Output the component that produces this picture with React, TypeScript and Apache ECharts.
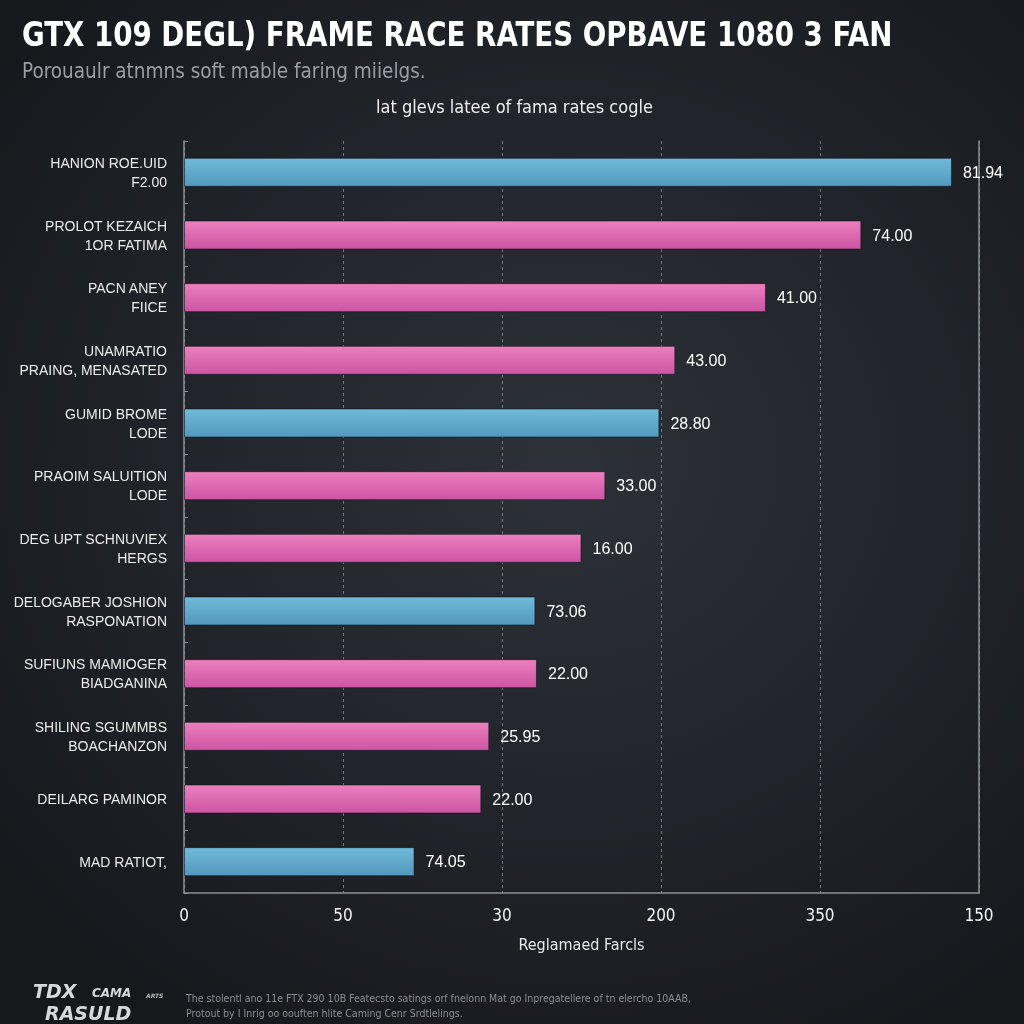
import React, { useEffect, useRef } from "react";
import * as echarts from "echarts";

// ---- data ----
const categories: string[] = [
  "HANION ROE.UID\nF2.00",
  "PROLOT KEZAICH\n1OR FATIMA",
  "PACN ANEY\nFIICE",
  "UNAMRATIO\nPRAING, MENASATED",
  "GUMID BROME\nLODE",
  "PRAOIM SALUITION\nLODE",
  "DEG UPT SCHNUVIEX\nHERGS",
  "DELOGABER JOSHION\nRASPONATION",
  "SUFIUNS MAMIOGER\nBIADGANINA",
  "SHILING SGUMMBS\nBOACHANZON",
  "DEILARG PAMINOR",
  "MAD RATIOT,",
];
// bar lengths in axis units (one unit per gridline)
const barValues: number[] = [4.83, 4.26, 3.66, 3.09, 2.99, 2.65, 2.5, 2.21, 2.22, 1.92, 1.87, 1.45];
const valueLabels: string[] = [
  "81.94", "74.00", "41.00", "43.00", "28.80", "33.00",
  "16.00", "73.06", "22.00", "25.95", "22.00", "74.05",
];
const barGroups: string[] = [
  "blue", "pink", "pink", "pink", "blue", "pink",
  "pink", "blue", "pink", "pink", "pink", "blue",
];
const xTickLabels: string[] = ["0", "50", "30", "200", "350", "150"];

const TITLE = "GTX 109 DEGL) FRAME RACE RATES OPBAVE 1080 3 FAN";
const SUBTITLE = "Porouaulr atnmns soft mable faring miielgs.";
const CHART_TITLE = "lat glevs latee of fama rates cogle";
const X_NAME = "Reglamaed Farcls";
const FOOTER_1 =
  "The stolentl ano 11e FTX 290 10B Featecsto satings orf fnelonn Mat go Inpregatellere of tn elercho 10AAB,";
const FOOTER_2 = "Protout by I Inrig oo oouften hlite Caming Cenr Srdtlelings.";

const NARROW = "'Liberation Sans Narrow', 'DejaVu Sans Condensed', 'Roboto', sans-serif";
const SANS = "'Liberation Sans', 'Roboto', sans-serif";
const LOGO_FONT = "'DejaVu Sans', sans-serif";

const blueGrad = () =>
  new echarts.graphic.LinearGradient(0, 0, 0, 1, [
    { offset: 0, color: "#70bad9" },
    { offset: 1, color: "#5299bd" },
  ]);
const pinkGrad = () =>
  new echarts.graphic.LinearGradient(0, 0, 0, 1, [
    { offset: 0, color: "#ec7fbd" },
    { offset: 1, color: "#cc55a3" },
  ]);

export default function App() {
  const ref = useRef<HTMLDivElement>(null);

  useEffect(() => {
    if (!ref.current) return;
    const chart = echarts.init(ref.current, undefined, { renderer: "svg" });

    const option: any = {
      animation: false,
      backgroundColor: "transparent",
      title: [
        {
          text: SUBTITLE,
          left: 22,
          top: 60,
          padding: 0,
          textStyle: { color: "#9b9ea4", fontSize: 20.5, fontWeight: "normal", fontFamily: NARROW },
        },
        {
          text: CHART_TITLE,
          left: 376,
          top: 97,
          padding: 0,
          textStyle: { color: "#f0f0f0", fontSize: 18, fontWeight: "normal", fontFamily: NARROW },
        },
      ],
      grid: { left: 184, right: 45, top: 141, bottom: 131, containLabel: false },
      xAxis: {
        type: "value",
        min: 0,
        max: 5,
        interval: 1,
        name: X_NAME,
        nameLocation: "middle",
        nameGap: 43,
        nameTextStyle: { color: "#e8e8e8", fontSize: 16, fontFamily: NARROW },
        axisLine: { show: true, lineStyle: { color: "#8c9096", width: 1.5 } },
        axisTick: { show: false },
        axisLabel: {
          color: "#f2f2f2",
          fontSize: 17,
          fontFamily: NARROW,
          margin: 13,
          formatter: (v: number) => xTickLabels[Math.round(v)] ?? "",
        },
        splitLine: { show: true, lineStyle: { color: "#70747b", type: [3, 3], width: 1 } },
      },
      yAxis: [
        {
          type: "category",
          inverse: true,
          data: categories,
          axisLine: { show: true, lineStyle: { color: "#8c9096", width: 1.5 } },
          axisTick: { show: true, inside: true, length: 4, lineStyle: { color: "#8c9096" } },
          axisLabel: {
            color: "#ececec",
            fontSize: 14,
            fontFamily: SANS,
            lineHeight: 19,
            align: "right",
            margin: 17,
          },
          splitLine: { show: false },
        },
        {
          type: "category",
          inverse: true,
          position: "right",
          data: categories,
          axisLine: { show: true, lineStyle: { color: "#8c9096", width: 1.5 } },
          axisTick: { show: false },
          axisLabel: { show: false },
          splitLine: { show: false },
        },
      ],
      series: [
        {
          type: "bar",
          yAxisIndex: 0,
          barWidth: 29,
          data: barValues.map((v, i) => ({
            value: v,
            itemStyle: {
              color: barGroups[i] === "blue" ? blueGrad() : pinkGrad(),
              borderColor: "rgba(10,20,30,0.55)",
              borderWidth: 1,
            },
          })),
          label: {
            show: true,
            position: "right",
            distance: 11,
            color: "#ffffff",
            fontSize: 16,
            fontFamily: SANS,
            formatter: (p: any) => valueLabels[p.dataIndex],
          },
        },
      ],
      graphic: [
        {
          type: "text",
          x: 22,
          y: 17,
          scaleX: 0.905,
          style: {
            text: TITLE,
            fill: "#ffffff",
            font: "bold 34px " + NARROW,
          },
        },
        {
          type: "text",
          x: 33,
          y: 981,
          style: {
            text: "TDX",
            fill: "#d6d8db",
            font: "italic bold 19px " + LOGO_FONT,
          },
        },
        {
          type: "text",
          x: 92,
          y: 987,
          style: {
            text: "CAMA",
            fill: "#d6d8db",
            font: "italic bold 12px " + LOGO_FONT,
          },
        },
        {
          type: "text",
          x: 45,
          y: 1003,
          style: {
            text: "RASULD",
            fill: "#d6d8db",
            font: "italic bold 19px " + LOGO_FONT,
          },
        },
        {
          type: "text",
          x: 146,
          y: 992,
          style: {
            text: "ARTS",
            fill: "#b8babd",
            font: "italic bold 6px " + LOGO_FONT,
          },
        },
        {
          type: "text",
          x: 186,
          y: 992,
          style: { text: FOOTER_1, fill: "#8b8e94", font: "10.5px " + NARROW },
        },
        {
          type: "text",
          x: 186,
          y: 1007,
          style: { text: FOOTER_2, fill: "#8b8e94", font: "10.5px " + NARROW },
        },
      ],
    };

    chart.setOption(option);
    return () => chart.dispose();
  }, []);

  return (
    <div
      style={{
        position: "fixed",
        left: 0,
        top: 0,
        width: 1024,
        height: 1024,
        background:
          "radial-gradient(ellipse 70% 65% at 55% 45%, #2d3138 0%, #22252b 50%, #16181c 100%)",
      }}
    >
      <div ref={ref} style={{ width: 1024, height: 1024 }} />
    </div>
  );
}
